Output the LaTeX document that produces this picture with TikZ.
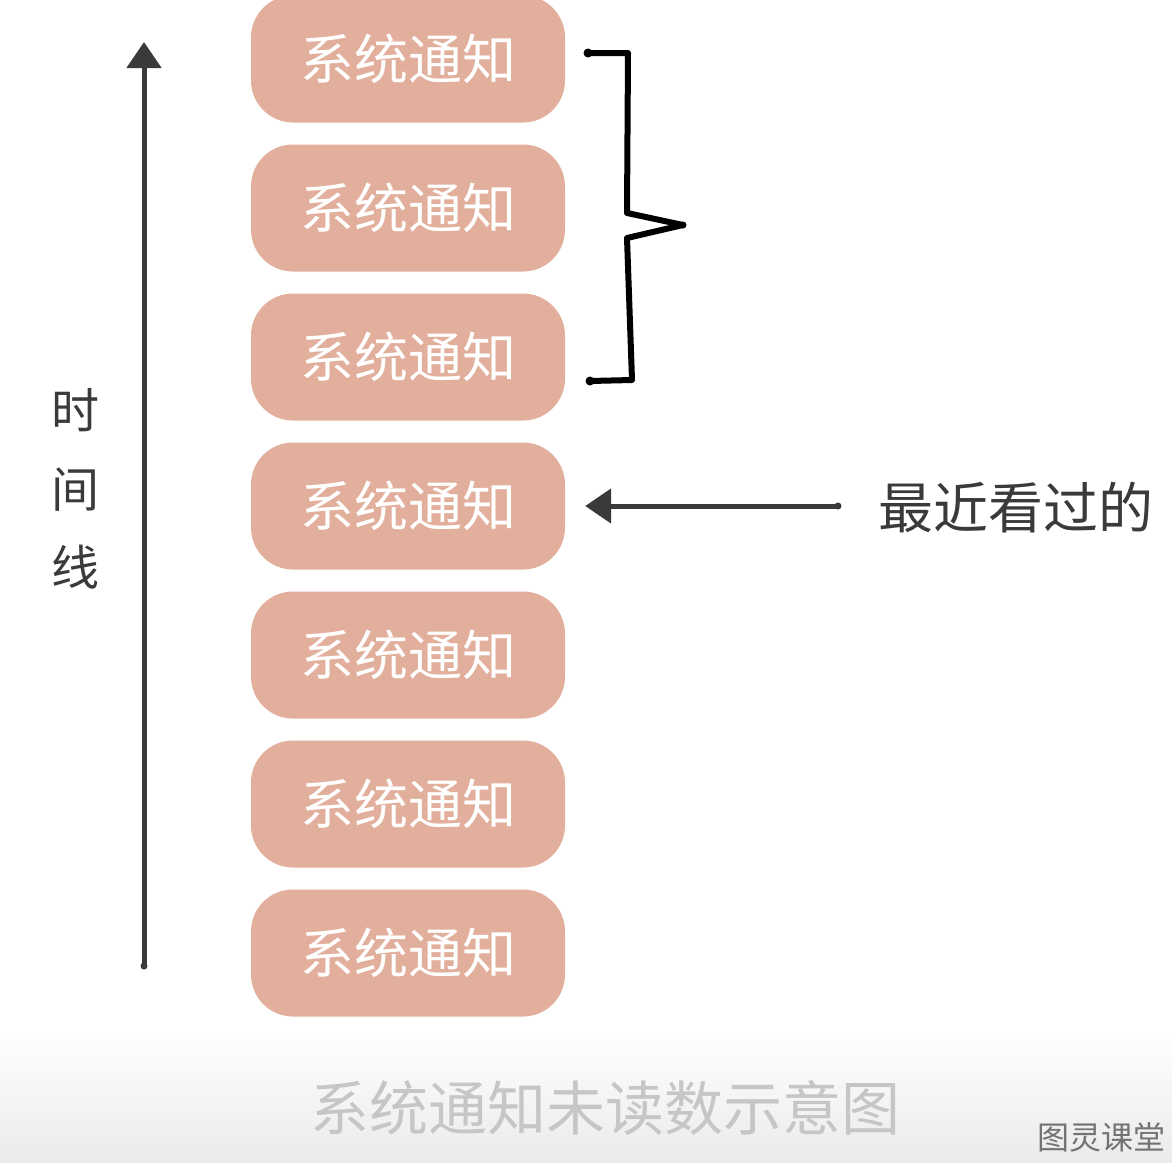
\documentclass[tikz,border=0pt]{standalone}
\usepackage{fontspec}
\setmainfont{Noto Sans CJK SC}
\newfontfamily\cjk{Noto Sans CJK SC}
\usetikzlibrary{arrows.meta,positioning}
\definecolor{boxfill}{HTML}{E2AF9D}
\definecolor{inkgray}{HTML}{3A3A3A}
\definecolor{capgray}{HTML}{C6C6C6}
\tikzset{
  notebox/.style={fill=boxfill, draw=none, rounded corners=42pt,
    minimum width=314pt, minimum height=127pt, inner sep=0pt,
    text=white, font=\cjk\fontsize{54}{60}\selectfont},
  timearrow/.style={draw=inkgray, line width=5pt, line cap=round,
    -{Triangle[width=34pt,length=26pt]}},
  lbl/.style={text=inkgray, inner sep=0pt, font=\cjk\fontsize{55}{60}\selectfont},
  bracketline/.style={draw=black, line width=6pt, line cap=round, line join=round},
}
\begin{document}
\begin{tikzpicture}[x=1pt,y=-1pt]
\useasboundingbox (0,0) rectangle (1172,1162);
\fill[white] (0,0) rectangle (1172,1162);
\shade[top color=white, bottom color=black!8] (0,1030) rectangle (1172,1162);
% boxes
\foreach \i/\yy in {1/59,2/208,3/357,4/506,5/655,6/804,7/953}{
  \node[notebox] (b\i) at (408,\yy) {系统通知};
}
% time arrow
\coordinate (tbot) at (144,966);
\coordinate (ttop) at (144,42);
\draw[timearrow] (tbot) -- (ttop);
\fill[inkgray] (tbot) circle (3.5pt);
\node[lbl, font=\cjk\fontsize{48}{54}\selectfont] (t1) at (75,410) {时};
\node[lbl, font=\cjk\fontsize{48}{54}\selectfont] (t2) at (75,490) {间};
\node[lbl, font=\cjk\fontsize{48}{54}\selectfont] (t3) at (75,567) {线};
% bracket
\coordinate (k1) at (588,53);
\coordinate (k2) at (590,381);
\draw[bracketline] (k1) -- (628,53) -- (627,213) -- (683,225) -- (627,238) -- (632,380) -- (k2);
\fill[black] (k1) circle (4.5pt) (k2) circle (4.5pt) (683,225) circle (3.5pt);
% recent label and arrow
\node[lbl, anchor=west] (recent) at (878,508) {最近看过的};
\coordinate (rtail) at (838,506);
\draw[timearrow] (rtail) -- ([xshift=20pt]b4.east);
\fill[inkgray] (rtail) circle (3.5pt);
% caption
\node[text=capgray, inner sep=0pt, font=\cjk\fontsize{59}{64}\selectfont] (cap) at (605,1108) {系统通知未读数示意图};
\node[text=black!55, inner sep=0pt, anchor=east, font=\cjk\fontsize{32}{36}\selectfont] (logo) at (1166,1137) {图灵课堂};
\end{tikzpicture}
\end{document}
